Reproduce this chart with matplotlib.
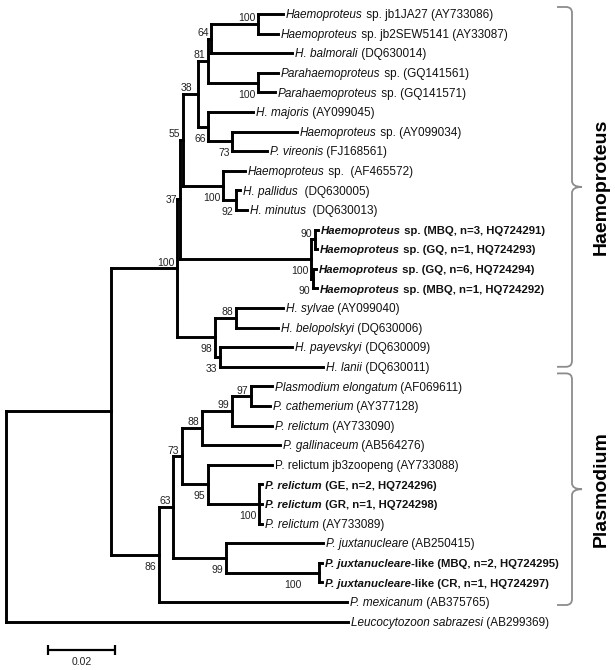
import matplotlib
matplotlib.use('Agg')
import matplotlib.pyplot as plt
from matplotlib.collections import LineCollection
from matplotlib.path import Path
from matplotlib.patches import PathPatch

plt.rcParams['font.family'] = ['Liberation Sans', 'DejaVu Sans']

# ---------------- data ----------------
# leaf labels as (text, style) segments: i=italic, n=normal, bi=bold italic, b=bold
leaf_labels = [
    [("Haemoproteus", "i"), (" sp. jb1JA27 (AY733086)", "n")],
    [("Haemoproteus", "i"), (" sp. jb2SEW5141 (AY33087)", "n")],
    [("H. balmorali", "i"), (" (DQ630014)", "n")],
    [("Parahaemoproteus", "i"), (" sp. (GQ141561)", "n")],
    [("Parahaemoproteus", "i"), (" sp. (GQ141571)", "n")],
    [("H. majoris", "i"), (" (AY099045)", "n")],
    [("Haemoproteus", "i"), (" sp. (AY099034)", "n")],
    [("P. vireonis", "i"), (" (FJ168561)", "n")],
    [("Haemoproteus", "i"), (" sp.  (AF465572)", "n")],
    [("H. pallidus", "i"), ("  (DQ630005)", "n")],
    [("H. minutus", "i"), ("  (DQ630013)", "n")],
    [("Haemoproteus", "bi"), (" sp. (MBQ, n=3, HQ724291)", "b")],
    [("Haemoproteus", "bi"), (" sp. (GQ, n=1, HQ724293)", "b")],
    [("Haemoproteus", "bi"), (" sp. (GQ, n=6, HQ724294)", "b")],
    [("Haemoproteus", "bi"), (" sp. (MBQ, n=1, HQ724292)", "b")],
    [("H. sylvae", "i"), (" (AY099040)", "n")],
    [("H. belopolskyi", "i"), (" (DQ630006)", "n")],
    [("H. payevskyi", "i"), (" (DQ630009)", "n")],
    [("H. lanii", "i"), (" (DQ630011)", "n")],
    [("Plasmodium elongatum", "i"), (" (AF069611)", "n")],
    [("P. cathemerium", "i"), (" (AY377128)", "n")],
    [("P. relictum", "i"), (" (AY733090)", "n")],
    [("P. gallinaceum", "i"), (" (AB564276)", "n")],
    [("P. relictum jb3zoopeng (AY733088)", "n")],
    [("P. relictum", "bi"), (" (GE, n=2, HQ724296)", "b")],
    [("P. relictum", "bi"), (" (GR, n=1, HQ724298)", "b")],
    [("P. relictum", "i"), (" (AY733089)", "n")],
    [("P. juxtanucleare", "i"), (" (AB250415)", "n")],
    [("P. juxtanucleare", "bi"), ("-like (MBQ, n=2, HQ724295)", "b")],
    [("P. juxtanucleare", "bi"), ("-like (CR, n=1, HQ724297)", "b")],
    [("P. mexicanum", "i"), (" (AB375765)", "n")],
    [("Leucocytozoon sabrazesi", "i"), (" (AB299369)", "n")],
]

# distance from root (substitutions/site) of each leaf
leaf_depth = [0.0827, 0.0812, 0.0854, 0.0812, 0.0803, 0.0737, 0.0869, 0.0779,
              0.0713, 0.0699, 0.0719, 0.0931, 0.0928, 0.0925, 0.0928, 0.0827,
              0.0812, 0.0854, 0.0946, 0.0794, 0.0788, 0.0794, 0.0818, 0.0794,
              0.0764, 0.0764, 0.0764, 0.0946, 0.0943, 0.0943, 0.1018, 0.1021]

# internal nodes
node_ids = ['root', 'B', 'Haem', 'n37', 'n55', 'n38', 'n81', 'n64', 'njb', 'npara',
            'n66', 'n73h', 'naf', 'n92', 'nbold', 'n90a', 'n90b', 'nE', 'n88h', 'n33',
            'Plas', 'n63', 'n73p', 'n88p', 'n99p', 'n97', 'n95', 'nrel', 'njux99', 'njux100']
node_children = [
    ['B', 31], ['Haem', 'Plas'], ['n37', 'nE'], ['n55', 'nbold'], ['n38', 'naf'],
    ['n81', 'n66'], ['n64', 'npara'], ['njb', 2], [0, 1], [3, 4],
    [5, 'n73h'], [6, 7], [8, 'n92'], [9, 10], ['n90a', 'n90b'],
    [11, 12], [13, 14], ['n88h', 'n33'], [15, 16], [17, 18],
    ['n63', 30], ['n73p', 'njux99'], ['n88p', 'n95'], ['n99p', 22], ['n97', 21],
    [19, 20], [23, 'nrel'], [24, 25, 26], [27, 'njux100'], [28, 29],
]
node_depth = [0.0, 0.0313, 0.0510, 0.0519, 0.0528, 0.0573, 0.0603, 0.0612, 0.0752, 0.0752,
              0.0603, 0.0675, 0.0648, 0.0687, 0.0910, 0.0922, 0.0916, 0.0624, 0.0687, 0.0639,
              0.0457, 0.0499, 0.0525, 0.0585, 0.0675, 0.0731, 0.0603, 0.0755, 0.0657, 0.0934]
node_support = [None, None, 100, 37, 55, 38, 81, 64, 100, 100,
                66, 73, 100, 92, 100, 90, 90, 98, 88, 33,
                86, 63, 73, 88, 99, 97, 95, 100, 99, 100]

clade_names = ["Haemoproteus", "Plasmodium"]
clade_first_leaf = [0, 19]
clade_last_leaf = [18, 30]

scale_length = 0.02
scale_label = "0.02"

# ---------------- style / layout ----------------
W, H = 615, 670
PX_PER_UNIT = 3350.0
X0_PX = 6.0
Y0_PX = 14.0
ROW_PX = 19.6

# support label placement: 'a' above the stem, 'b' below, 'c' centred
label_pos = {'Haem': 'a', 'n37': 'c', 'n55': 'a', 'n38': 'a', 'n81': 'a', 'n64': 'a',
             'njb': 'a', 'npara': 'b', 'n66': 'b', 'n73h': 'b', 'naf': 'b', 'n92': 'b',
             'nbold': 'b', 'n90a': 'a', 'n90b': 'b', 'nE': 'b', 'n88h': 'a', 'n33': 'b',
             'Plas': 'b', 'n63': 'a', 'n73p': 'a', 'n88p': 'a', 'n99p': 'a', 'n97': 'a',
             'n95': 'b', 'nrel': 'b', 'njux99': 'b', 'njux100': 'b'}
label_dx_px = {'njux100': -15, 'n38': -3}

LEAF_FS = 8.5
BOLD_FS = 8.2
BOOT_FS = 7.5
CLADE_FS = 14
TREE_LW = 2.1

fig = plt.figure(figsize=(W / 100, H / 100), dpi=100)
ax = fig.add_axes([0, 0, 1, 1])
ax.set_xlim(-X0_PX / PX_PER_UNIT, (W - X0_PX) / PX_PER_UNIT)
ax.set_ylim((H - Y0_PX) / ROW_PX, -Y0_PX / ROW_PX)
ax.axis('off')

dx = 1.0 / PX_PER_UNIT   # one pixel in x data units
dy = 1.0 / ROW_PX        # one pixel in y data units

# ---------------- layout of tree ----------------
idx = {n: k for k, n in enumerate(node_ids)}
ypos = {}


def get_y(c):
    if isinstance(c, int):
        return float(c)
    if c in ypos:
        return ypos[c]
    ch = node_children[idx[c]]
    ys = [get_y(k) for k in ch]
    ypos[c] = (min(ys) + max(ys)) / 2.0
    return ypos[c]


def get_x(c):
    if isinstance(c, int):
        return leaf_depth[c]
    return node_depth[idx[c]]


segs = []
for n in node_ids:
    x = get_x(n)
    ch = node_children[idx[n]]
    ys = [get_y(k) for k in ch]
    segs.append([(x, min(ys)), (x, max(ys))])
    for k in ch:
        segs.append([(x, get_y(k)), (get_x(k), get_y(k))])

lc = LineCollection(segs, colors='black', linewidths=TREE_LW, capstyle='projecting')
ax.add_collection(lc)

# support values
for n, s in zip(node_ids, node_support):
    if s is None:
        continue
    x = get_x(n) - (2.5 - label_dx_px.get(n, 0)) * dx
    y = get_y(n)
    pos = label_pos.get(n, 'a')
    if pos == 'a':
        yy = y - 2.6 * dy
    elif pos == 'b':
        yy = y + 15.0 * dy
    else:
        yy = y + 3.5 * dy
    ax.text(x, yy, str(s), fontsize=BOOT_FS, ha='right', va='baseline', color='#222222')

# leaf labels
renderer = fig.canvas.get_renderer()
style_map = {'i': ('italic', 'normal'), 'n': ('normal', 'normal'),
             'bi': ('italic', 'bold'), 'b': ('normal', 'bold')}
for k, segments in enumerate(leaf_labels):
    x = leaf_depth[k] + 3.0 * dx
    y = k + 4.2 * dy
    for txt, st in segments:
        fs, fw = style_map[st]
        size = BOLD_FS if fw == 'bold' else LEAF_FS
        t = ax.text(x, y, txt, fontsize=size, fontstyle=fs, fontweight=fw,
                    ha='left', va='baseline', color='#111111')
        bb = t.get_window_extent(renderer)
        x = ax.transData.inverted().transform((bb.x1, bb.y0))[0]

# scale bar
sx0 = 42 * dx
sy = (650 - Y0_PX) / ROW_PX
ax.plot([sx0, sx0 + scale_length], [sy, sy], color='black', lw=1.6, solid_capstyle='butt')
for xx in (sx0, sx0 + scale_length):
    ax.plot([xx, xx], [sy - 5 * dy, sy + 5 * dy], color='black', lw=1.6, solid_capstyle='butt')
ax.text(sx0 + scale_length / 2, sy + 12 * dy, scale_label, fontsize=BOOT_FS,
        ha='center', va='center', color='#222222')

# ---------------- clade brackets (pixel overlay) ----------------
ov = fig.add_axes([0, 0, 1, 1], facecolor='none')
ov.set_xlim(0, W)
ov.set_ylim(H, 0)
ov.axis('off')

top_pad = [7, 13]
bot_pad = [0, -3]


def brace(top, bot, xl=557, xv=572, xt=582, r=6):
    mid = (top + bot) / 2.0
    verts = [(xl, top), (xv - r, top), (xv, top), (xv, top + r),
             (xv, mid - r), (xv, mid), (xt, mid),
             (xv, mid), (xv, mid + r),
             (xv, bot - r), (xv, bot), (xv - r, bot), (xl, bot)]
    codes = [Path.MOVETO, Path.LINETO, Path.CURVE3, Path.CURVE3, Path.LINETO,
             Path.CURVE3, Path.CURVE3, Path.CURVE3, Path.CURVE3, Path.LINETO,
             Path.CURVE3, Path.CURVE3, Path.LINETO]
    return Path(verts, codes), mid


for name, a, b, tp, bp in zip(clade_names, clade_first_leaf, clade_last_leaf, top_pad, bot_pad):
    top = Y0_PX + ROW_PX * a - tp
    bot = Y0_PX + ROW_PX * b - bp
    p, mid = brace(top, bot)
    ov.add_patch(PathPatch(p, facecolor='none', edgecolor='#8c8c8c', lw=1.3))
    ov.text(601, mid, name, rotation=90, fontsize=CLADE_FS, fontweight='bold',
            ha='center', va='center', color='black')

fig.savefig('out.png', dpi=100)
